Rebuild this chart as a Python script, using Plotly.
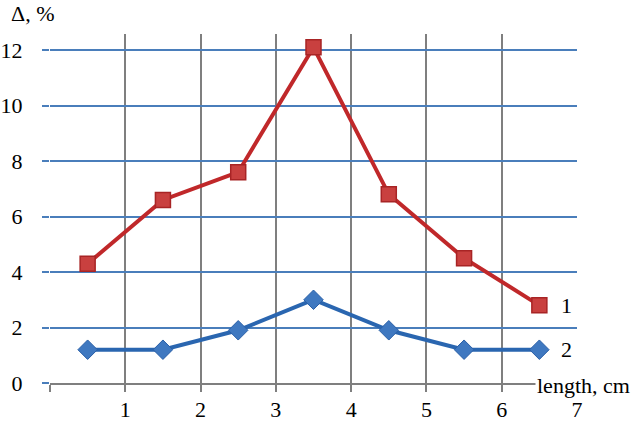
import plotly.graph_objects as go

x_vals = [0.5, 1.5, 2.5, 3.5, 4.5, 5.5, 6.5]
series1 = [4.3, 6.6, 7.6, 12.1, 6.8, 4.5, 2.8]
series2 = [1.2, 1.2, 1.9, 3.0, 1.9, 1.2, 1.2]
x_ticks = [1, 2, 3, 4, 5, 6, 7]
y_ticks = [0, 2, 4, 6, 8, 10, 12]

FONT = "Liberation Serif"
fig = go.Figure()

fig.add_trace(go.Scatter(
    x=x_vals, y=series1, mode="lines+markers",
    line=dict(color="#c0282a", width=4),
    marker=dict(symbol="square", size=15, color="#c9403f",
                line=dict(color="#a82425", width=1.5)),
    showlegend=False, cliponaxis=False))
fig.add_trace(go.Scatter(
    x=x_vals, y=series2, mode="lines+markers",
    line=dict(color="#2a66b0", width=4),
    marker=dict(symbol="diamond", size=15, color="#3f78c0",
                line=dict(color="#2a60a8", width=1)),
    showlegend=False, cliponaxis=False))
# invisible trace to activate label axis
fig.add_trace(go.Scatter(x=[0, 7], y=[0, 0], xaxis="x2", mode="markers",
                         marker=dict(opacity=0), showlegend=False, hoverinfo="skip"))

fig.update_layout(
    width=640, height=421,
    margin=dict(l=50, r=63, t=34, b=38, autoexpand=False),
    paper_bgcolor="white", plot_bgcolor="white",
    font=dict(family=FONT, size=22, color="black"),
    xaxis=dict(range=[0, 7], tickvals=[0, 1, 2, 3, 4, 5, 6], showticklabels=False,
               showgrid=True, gridcolor="#7f7f7f", gridwidth=2,
               ticks="outside", ticklen=7, tickcolor="#7f7f7f", tickwidth=2,
               showline=True, linecolor="#7f7f7f", linewidth=2, zeroline=False,
               automargin=False),
    xaxis2=dict(range=[0, 7], overlaying="x", side="bottom", tickvals=x_ticks,
                ticktext=[str(v) for v in x_ticks], showgrid=False, ticks="",
                showline=False, zeroline=False, ticklabelstandoff=11, automargin=False,
                tickfont=dict(family=FONT, size=22, color="black")),
    yaxis=dict(range=[0, 12.58], tickvals=y_ticks, ticktext=[str(v) for v in y_ticks],
               showgrid=True, gridcolor="#4a7ebb", gridwidth=1.5,
               ticks="outside", ticklen=7, tickcolor="#4a7ebb", tickwidth=1.5,
               showline=False, zeroline=False, ticklabelstandoff=15, automargin=False,
               tickfont=dict(family=FONT, size=22, color="black")),
    annotations=[
        dict(text="Δ, %", xref="paper", yref="paper", x=-0.078, y=1.0, xanchor="left",
             yanchor="bottom", yshift=6, showarrow=False, font=dict(family=FONT, size=22)),
        dict(text="length, cm", xref="x", yref="y", x=6.5, y=0, xanchor="left",
             yanchor="middle", xshift=-4, yshift=-2, showarrow=False, bgcolor="white",
             font=dict(family=FONT, size=22)),
        dict(text="1", xref="x", yref="y", x=6.5, y=series1[-1], xanchor="left",
             yanchor="middle", xshift=20, showarrow=False, font=dict(family=FONT, size=22)),
        dict(text="2", xref="x", yref="y", x=6.5, y=series2[-1], xanchor="left",
             yanchor="middle", xshift=20, showarrow=False, font=dict(family=FONT, size=22)),
    ],
)

fig.write_html("out.html", config={"displayModeBar": False},
               post_script="document.body.style.margin='0';document.body.style.overflow='hidden';")
